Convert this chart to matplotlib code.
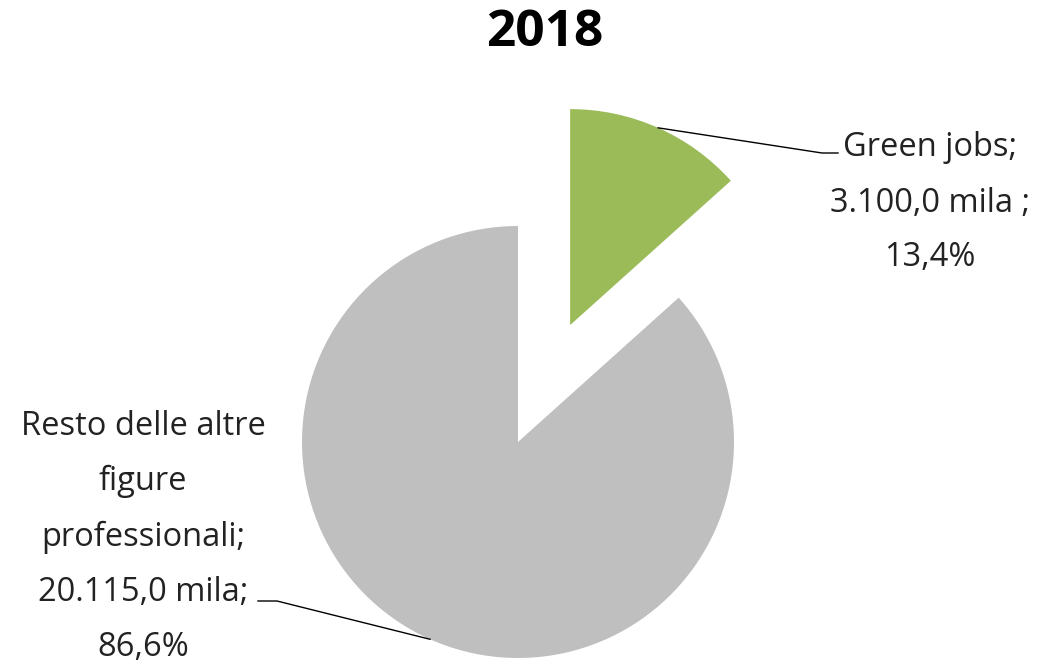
import numpy as np
import matplotlib
matplotlib.use("Agg")
import matplotlib.pyplot as plt

# data
labels = ["Green jobs", "Resto delle altre figure professionali"]
values = [3100.0, 20115.0]
label_texts = ["Green jobs;\n3.100,0 mila ;\n13,4%",
               "Resto delle altre\nfigure\nprofessionali;\n20.115,0 mila;\n86,6%"]
colors = ["#9BBB59", "#BFBFBF"]
title = "2018"

W, H = 1039, 665
fig = plt.figure(figsize=(W / 100, H / 100), dpi=100)
ax = fig.add_axes([0, 0, 1, 1])

center = (518, 223)
radius = 216
explode_px = [128, 0]  # pie explode is in data units here
wedges, _ = ax.pie(values, colors=colors, startangle=90, counterclock=False,
                   explode=explode_px, center=center, radius=radius, frame=True,
                   wedgeprops=dict(linewidth=0))
ax.set_xlim(0, W)
ax.set_ylim(0, H)
ax.set_aspect("equal")
ax.axis("off")

fam = ["Open Sans", "DejaVu Sans"]

# mid angles of the slices (clockwise from top)
fracs = np.array(values) / sum(values)
start = 0.0
mids = []
for f in fracs:
    mids.append(np.radians((start + f / 2) * 360))
    start += f

# green label + leader
m = mids[0]
cx = center[0] + explode_px[0] * np.sin(m)
cy = center[1] + explode_px[0] * np.cos(m)
p0 = (cx + radius * np.sin(m), cy + radius * np.cos(m))
ax.plot([p0[0], 822, 838], [p0[1], 512, 512], color="black", lw=1.0)
ax.text(930, 462, label_texts[0], ha="center", va="center", fontsize=23.5,
        color="#222222", linespacing=1.88, family=fam)

# gray label + leader
m = mids[1]
p1 = (center[0] + radius * np.sin(m), center[1] + radius * np.cos(m))
ax.plot([p1[0], 277, 258], [p1[1], 64, 64], color="black", lw=1.0)
ax.text(143, 128, label_texts[1], ha="center", va="center", fontsize=23.5,
        color="#222222", linespacing=1.88, family=fam)

ax.text(545, 632, title, ha="center", va="center", fontsize=37,
        fontweight="bold", family=fam)

fig.savefig("out.png", dpi=100, facecolor="white")
